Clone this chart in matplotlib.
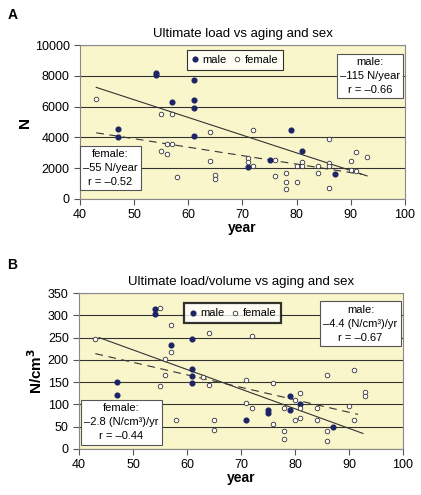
import numpy as np
import matplotlib
matplotlib.use("Agg")
import matplotlib.pyplot as plt
from matplotlib.lines import Line2D

plt.rcParams['font.family'] = ['Liberation Sans', 'DejaVu Sans']

# Panel A: ultimate load (N) vs age
a_male_age = [54, 54, 57, 61, 61, 61, 61, 47, 47, 71, 75, 79, 81, 87]
a_male_load = [8200, 8050, 6300, 7750, 6400, 5900, 4100, 4550, 4000, 2100, 2550, 4450, 3100, 1600]
a_female_age = [43, 55, 57, 56, 57, 55, 56, 58, 64, 64, 65, 65, 71, 71, 72, 72,
                76, 76, 78, 78, 78, 80, 80, 81, 81, 84, 84, 86, 86, 86, 86,
                90, 91, 90, 91, 93]
a_female_load = [6500, 5500, 5500, 3600, 3600, 3100, 2950, 1450, 4350, 2500, 1550, 1300, 2650, 2400, 2150, 4500,
                 2550, 1500, 1700, 1100, 650, 2150, 1100, 2400, 2150, 2150, 1700, 3900, 2350, 2150, 700,
                 2500, 3050, 1900, 1850, 2700]

# Panel B: ultimate load/volume (N/cm3) vs age
b_male_age = [54, 54, 57, 61, 61, 61, 61, 47, 47, 71, 75, 75, 79, 79, 81, 87]
b_male_val = [315, 304, 233, 247, 179, 163, 148, 151, 122, 64, 87, 81, 118, 87, 102, 49]
b_female_age = [43, 55, 57, 57, 56, 56, 55, 58, 63, 64, 64, 65, 65, 71, 71, 72, 72,
                76, 76, 78, 78, 78, 80, 80, 81, 81, 81, 84, 84, 86, 86, 86,
                91, 90, 91, 93, 93]
b_female_val = [247, 317, 279, 217, 203, 166, 142, 64, 162, 260, 144, 66, 43, 154, 103, 91, 254,
                147, 57, 93, 41, 22, 110, 64, 126, 92, 70, 93, 66, 165, 40, 19,
                177, 96, 64, 128, 120]

# regression lines: (x start, x end, value at start, slope)
a_male_fit = (43, 93, 7250, -115)
a_female_fit = (43, 92, 4300, -55)
b_male_fit = (43.7, 92.6, 250, -4.4)
b_female_fit = (43, 91.7, 214, -2.8)

a_male_note = "male:\n\u2013115 N/year\nr = \u20130.66"
a_female_note = "female:\n\u201355 N/year\nr = \u20130.52"
b_male_note = "male:\n\u20134.4 (N/cm\u00b3)/yr\nr = \u20130.67"
b_female_note = "female:\n\u20132.8 (N/cm\u00b3)/yr\nr = \u20130.44"

navy = '#1c2466'
bg = '#faf6cc'


def draw_panel(ax, m_x, m_y, f_x, f_y, m_fit, f_fit, ymax, ystep, title, ylabel,
               m_note, f_note, m_pos, f_pos, leg_pos, leg_lw):
    ax.set_facecolor(bg)
    ax.set_xlim(40, 100)
    ax.set_ylim(0, ymax)
    ax.set_xticks(range(40, 101, 10))
    ax.set_yticks(np.arange(0, ymax + 1, ystep))
    ax.yaxis.grid(True, color='#333333', lw=0.8)
    ax.set_axisbelow(True)
    for s in ax.spines.values():
        s.set_color('#888888')
        s.set_linewidth(0.8)
    ax.tick_params(labelsize=9, length=4, color='#555555', width=0.8)

    for fit, ls in ((m_fit, '-'), (f_fit, (0, (7, 5)))):
        x0, x1, y0, k = fit
        xs = np.array([x0, x1])
        ax.plot(xs, y0 + k * (xs - x0), color='#333333', lw=0.8, ls=ls, zorder=2)

    ax.plot(m_x, m_y, 'o', color=navy, ms=3.4, mec=navy, zorder=3)
    ax.plot(f_x, f_y, 'o', mfc='white', mec='#333333', ms=3.3, mew=0.6, zorder=3)

    ax.set_title(title, fontsize=9.5, pad=6)
    ax.set_xlabel('year', fontsize=10, fontweight='bold', labelpad=0)
    ax.set_ylabel(ylabel, fontsize=11, fontweight='bold', labelpad=2)

    box = dict(boxstyle='square,pad=0.3', fc='white', ec='#555555', lw=0.8)
    ax.text(m_pos[0], m_pos[1], m_note, transform=ax.transAxes, ha='center', va='center',
            fontsize=8, linespacing=1.5, bbox=box, zorder=5)
    ax.text(f_pos[0], f_pos[1], f_note, transform=ax.transAxes, ha='center', va='center',
            fontsize=8, linespacing=1.5, bbox=box, zorder=5)

    handles = [Line2D([], [], ls='', marker='o', color=navy, ms=3.4),
               Line2D([], [], ls='', marker='o', mfc='white', mec='#333333', ms=3.3, mew=0.6)]
    leg = ax.legend(handles, ['male', 'female'], ncol=2, loc='center',
                    bbox_to_anchor=leg_pos, fontsize=8, frameon=True, fancybox=False,
                    handlelength=0.6, handletextpad=0.4, columnspacing=0.6,
                    borderpad=0.45, borderaxespad=0)
    leg.get_frame().set_edgecolor('black')
    leg.get_frame().set_linewidth(leg_lw)


fig = plt.figure(figsize=(4.21, 4.95), dpi=100)
ax_a = fig.add_axes([0.190, 0.598, 0.772, 0.311])
ax_b = fig.add_axes([0.188, 0.093, 0.769, 0.315])

draw_panel(ax_a, a_male_age, a_male_load, a_female_age, a_female_load, a_male_fit, a_female_fit,
           10000, 2000, 'Ultimate load vs aging and sex', 'N',
           a_male_note, a_female_note, (0.892, 0.799), (0.094, 0.201), (0.477, 0.906), 0.8)
draw_panel(ax_b, b_male_age, b_male_val, b_female_age, b_female_val, b_male_fit, b_female_fit,
           350, 50, 'Ultimate load/volume vs aging and sex', 'N/cm$^\\mathbf{3}$',
           b_male_note, b_female_note, (0.869, 0.804), (0.130, 0.170), (0.474, 0.869), 1.6)

fig.text(0.017, 0.97, 'A', fontsize=10, fontweight='bold', va='center')
fig.text(0.017, 0.465, 'B', fontsize=10, fontweight='bold', va='center')

fig.savefig('out.png', dpi=100)
